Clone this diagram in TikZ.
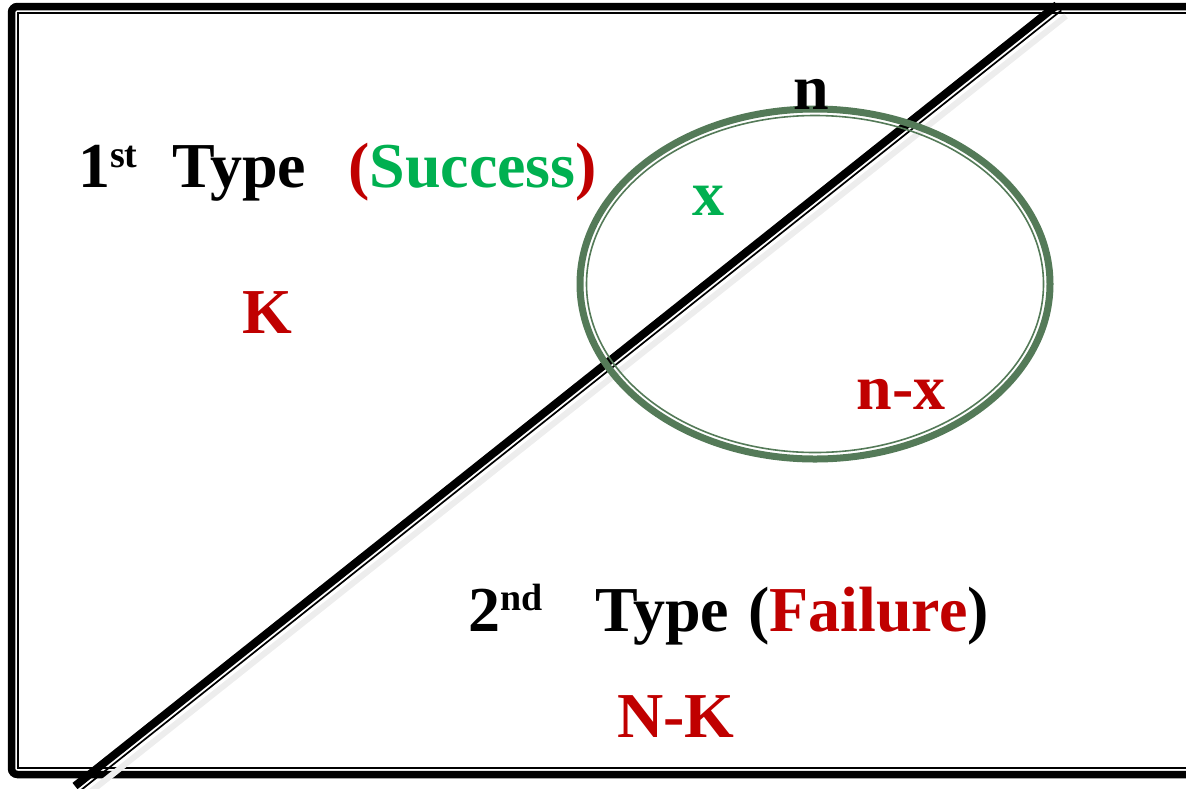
\documentclass[tikz,border=0pt]{standalone}
\usepackage{fontspec}
\setmainfont{Liberation Serif}
\usepackage{tikz}
\usetikzlibrary{positioning}
\definecolor{sred}{RGB}{192,0,0}
\definecolor{sgreen}{RGB}{0,176,80}
\definecolor{ringgreen}{RGB}{84,122,88}

\begin{document}
\begin{tikzpicture}[x=1pt,y=-1pt,font=\fontsize{64}{64}\selectfont\bfseries,
  txt/.style={inner sep=0pt,anchor=base west},
  mid/.style={inner sep=0pt,anchor=base},
  idx/.style={txt,font=\fontsize{38}{38}\selectfont\bfseries}]
\useasboundingbox (0,0) rectangle (1186,788);
\clip (0,0) rectangle (1186,788);
% frame
\draw[line width=7.5pt,rounded corners=6pt] (11.5,6.5) rectangle (1210,774.5);
\draw[line width=1.6pt] (18,13) rectangle (1210,768);
% dividing line
\coordinate (top) at (1057,5);
\coordinate (bot) at (75,786);
\draw[black!7,line width=6pt] ([shift={(9,11)}]top) -- ([shift={(9,11)}]bot);
\draw[line width=8pt] (top) -- (bot);
\draw[line width=1.7pt] ([shift={(4.3,5.4)}]top) -- ([shift={(4.3,5.4)}]bot);
% sample ring
\draw[ringgreen,line width=7pt] (815,284) ellipse [x radius=235,y radius=175];
\draw[ringgreen,line width=1.6pt] (815,284) ellipse [x radius=228.5,y radius=168.5];
% first type
\node[txt] (one) at (78,187) {1};
\node[idx] (st) at (110,167) {st};
\node[txt] (type1) at (172,187) {Type};
\node[txt] (succ) at (348,187) {\textcolor{sred}{(}\textcolor{sgreen}{Success}\textcolor{sred}{)}};
\node[mid,sred] (k) at (267,333) {K};
% inside the ring
\node[mid] (n) at (811,109) {n};
\node[mid,sgreen] (x) at (708,215) {x};
\node[mid,sred] (nx) at (901,409) {n-x};
% second type
\node[txt] (two) at (468,631) {2};
\node[idx] (nd) at (500,610) {nd};
\node[txt] (type2) at (595,631) {Type};
\node[txt] (fail) at (748,631) {(\textcolor{sred}{Failure})};
\node[mid,sred] (nk) at (676,737) {N-K};
\end{tikzpicture}
\end{document}
